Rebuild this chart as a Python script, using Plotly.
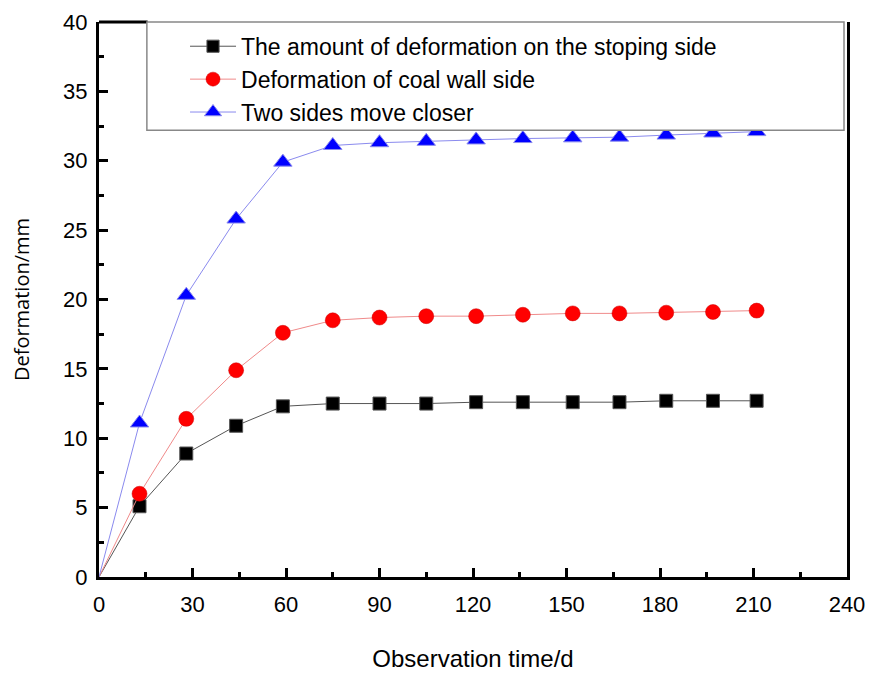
import plotly.graph_objects as go

# Data
days = [0, 13, 28, 44, 59, 75, 90, 105, 121, 136, 152, 167, 182, 197, 211]
stoping_side = [0, 5.1, 8.9, 10.9, 12.3, 12.5, 12.5, 12.5, 12.6, 12.6, 12.6, 12.6, 12.7, 12.7, 12.7]
coal_wall_side = [0, 6.0, 11.4, 14.9, 17.6, 18.5, 18.7, 18.8, 18.8, 18.9, 19.0, 19.0, 19.05, 19.1, 19.2]
two_sides = [0, 11.1, 20.3, 25.8, 29.9, 31.1, 31.3, 31.4, 31.5, 31.6, 31.65, 31.7, 31.85, 32.0, 32.1]

names = ["The amount of deformation on the stoping side",
         "Deformation of coal wall side",
         "Two sides move closer"]
x_ticks = [0, 30, 60, 90, 120, 150, 180, 210, 240]
y_ticks = [0, 5, 10, 15, 20, 25, 30, 35, 40]

FONT = "Arial, 'Liberation Sans', sans-serif"
YFONT = "'Open Sans', 'Noto Sans', sans-serif"


def sizes(n, s):
    # no visible marker at the origin point
    return [0] + [s] * (n - 1)


fig = go.Figure()
fig.add_trace(go.Scatter(x=days, y=stoping_side, name=names[0], mode="lines+markers",
                         legendgroup="a",
                         line=dict(color="#555555", width=1),
                         marker=dict(symbol="square", size=sizes(len(days), 13), color="#000000",
                                     opacity=1)))
fig.add_trace(go.Scatter(x=days, y=coal_wall_side, name=names[1], mode="lines+markers",
                         legendgroup="b",
                         line=dict(color="#f08a8a", width=1),
                         marker=dict(symbol="circle", size=sizes(len(days), 15), color="#ff0000",
                                     opacity=1, line=dict(color="#cc0000", width=0.5))))
fig.add_trace(go.Scatter(x=days, y=two_sides, name=names[2], mode="lines+markers",
                         legendgroup="c",
                         line=dict(color="#8a8aee", width=1),
                         marker=dict(symbol="triangle-up", size=sizes(len(days), 16), color="#0000ff",
                                     opacity=1)))

axis_common = dict(
    showgrid=False, zeroline=False, showline=True, linecolor="black", linewidth=3,
    ticks="inside", ticklen=9, tickwidth=2.5, tickcolor="black", automargin=False,
    tickfont=dict(family=FONT, size=22, color="black"),
)

fig.update_xaxes(range=[0, 240], tickvals=x_ticks, mirror=False, ticklabelstandoff=6,
                 minor=dict(dtick=15, ticks="inside", ticklen=5, tickwidth=2.5, tickcolor="black"),
                 title=dict(text="Observation time/d", font=dict(family=FONT, size=24, color="black"),
                            standoff=34),
                 **axis_common)
fig.update_yaxes(range=[0, 40], tickvals=y_ticks, mirror=True, ticklabelstandoff=4,
                 minor=dict(dtick=2.5, ticks="inside", ticklen=5, tickwidth=2.5, tickcolor="black"),
                 title=dict(text="Deformation/mm", font=dict(family=YFONT, size=20, color="black"),
                            standoff=32),
                 **axis_common)

# top frame line left of legend box, and legend box
fig.add_shape(type="line", xref="paper", yref="paper", x0=0, x1=0.065, y0=1, y1=1,
              line=dict(color="black", width=3), layer="above")
fig.add_shape(type="rect", xref="paper", yref="paper", x0=0.064, x1=0.996, y0=0.805, y1=1.0,
              line=dict(color="#888888", width=1.5), fillcolor="white", layer="above")

# page body has an 8px margin, so margins are offset to keep the plot area in place
fig.update_layout(
    width=873, height=676,
    margin=dict(l=91, r=34, t=14, b=107),
    paper_bgcolor="white", plot_bgcolor="white",
    font=dict(family=FONT, color="black"),
    legend=dict(x=0.115, y=0.995, xanchor="left", yanchor="top",
                bgcolor="rgba(0,0,0,0)", borderwidth=0,
                font=dict(family=FONT, size=23, color="black"),
                traceorder="grouped", tracegroupgap=0, itemwidth=46,
                itemsizing="trace"),
)

fig.write_html("out.html")
